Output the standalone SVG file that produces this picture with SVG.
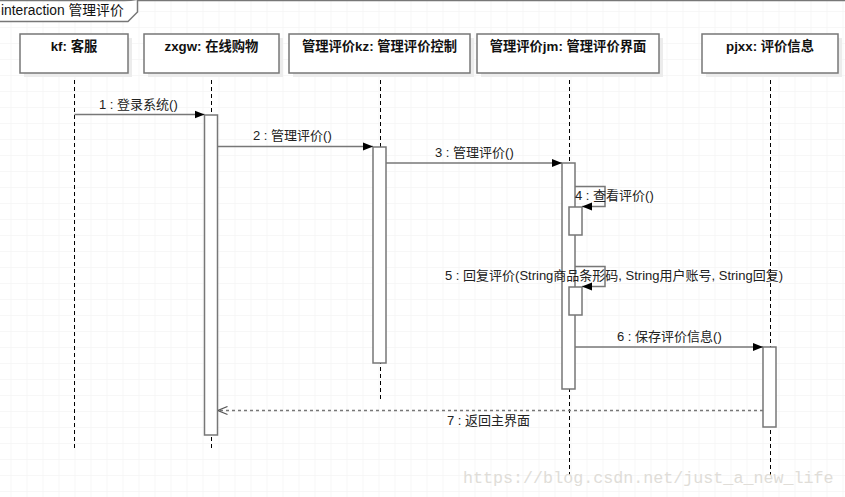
<svg xmlns="http://www.w3.org/2000/svg" width="845" height="497" viewBox="0 0 845 497">
<style>
.head rect.box{fill:#fff;stroke:#777;stroke-width:1.5}
.head rect.sh{fill:#ececec}
.head text{font-family:"Liberation Sans","Noto Sans CJK SC",sans-serif;font-size:13.3px;font-weight:bold;fill:#111;text-anchor:middle}
.life{stroke:#000;stroke-width:1;stroke-dasharray:4,3;fill:none}
.act{fill:#fff;stroke:#777;stroke-width:1.5}
.msg{stroke:#777;stroke-width:1.5;fill:none}
.ret{stroke:#777;stroke-width:1.5;stroke-dasharray:3,3;fill:none}
.lbl{font-family:"Liberation Sans","Noto Sans CJK SC",sans-serif;font-size:13px;fill:#222}
</style>
<defs>
<pattern id="grid" x="10.5" y="11" width="16" height="16" patternUnits="userSpaceOnUse">
<path d="M0 0V16M0 0H16" stroke="#efefef" stroke-width="1" fill="none"/>
</pattern>
<marker id="fill" viewBox="0 0 10 10" refX="10" refY="5" markerWidth="10" markerHeight="10" markerUnits="userSpaceOnUse" orient="auto">
<path d="M0 1L10 5L0 9Z" fill="#000"/>
</marker>
<marker id="open" viewBox="0 0 10 10" refX="10" refY="5" markerWidth="10" markerHeight="10" markerUnits="userSpaceOnUse" orient="auto">
<path d="M0 1L10 5L0 9" fill="none" stroke="#555" stroke-width="1.2"/>
</marker>
</defs>
<rect width="845" height="497" fill="#fff"/>
<rect width="845" height="497" fill="url(#grid)"/>
<g id="frame">
<line x1="0" y1="0.5" x2="845" y2="0.5" stroke="#777" stroke-width="1.5"/>
<path d="M0 21.5H128L137.5 12V0" fill="#fff" stroke="#777" stroke-width="1.5"/>
<text x="1" y="15" font-family="Liberation Sans,'Noto Sans CJK SC',sans-serif" font-size="13.8" fill="#111">interaction 管理评价</text>
</g>
<g id="lifelines">
<line class="life" x1="74.5" y1="73" x2="74.5" y2="449"/>
<line class="life" x1="211.5" y1="73" x2="211.5" y2="449"/>
<line class="life" x1="380.5" y1="73" x2="380.5" y2="402"/>
<line class="life" x1="569.5" y1="73" x2="569.5" y2="475"/>
<line class="life" x1="770.5" y1="73" x2="770.5" y2="475"/>
</g>
<g id="kf" class="head">
<rect class="sh" x="24" y="38" width="108" height="39"/>
<rect class="box" x="20" y="34" width="108" height="39"/>
<text x="74" y="51">kf: 客服</text>
</g>
<g id="zxgw" class="head">
<rect class="sh" x="148" y="38" width="135" height="39"/>
<rect class="box" x="144" y="34" width="135" height="39"/>
<text x="211.5" y="51">zxgw: 在线购物</text>
</g>
<g id="kz" class="head">
<rect class="sh" x="293" y="38" width="181" height="39"/>
<rect class="box" x="289" y="34" width="181" height="39"/>
<text x="379.5" y="51">管理评价kz: 管理评价控制</text>
</g>
<g id="jm" class="head">
<rect class="sh" x="481" y="38" width="182" height="39"/>
<rect class="box" x="477" y="34" width="182" height="39"/>
<text x="568" y="51">管理评价jm: 管理评价界面</text>
</g>
<g id="pjxx" class="head">
<rect class="sh" x="706" y="38" width="136" height="39"/>
<rect class="box" x="702" y="34" width="136" height="39"/>
<text x="770" y="51">pjxx: 评价信息</text>
</g>
<g id="activations">
<rect class="act" x="204.5" y="115" width="13" height="320"/>
<rect class="act" x="373" y="147" width="13" height="216"/>
<rect class="act" x="562" y="163" width="13" height="226"/>
<rect class="act" x="569" y="207" width="13" height="28"/>
<rect class="act" x="569" y="287" width="13" height="28"/>
<rect class="act" x="763" y="347" width="13" height="80"/>
</g>
<g id="connectors">
<line class="msg" x1="74.5" y1="114.5" x2="204.5" y2="114.5" marker-end="url(#fill)"/>
<line class="msg" x1="217.5" y1="146.5" x2="373" y2="146.5" marker-end="url(#fill)"/>
<line class="msg" x1="386" y1="163" x2="562" y2="163" marker-end="url(#fill)"/>
<path class="msg" d="M575 186.5H605V206.5H582" marker-end="url(#fill)"/>
<path class="msg" d="M575 266.5H605V286.5H582" marker-end="url(#fill)"/>
<line class="msg" x1="575" y1="347" x2="763" y2="347" marker-end="url(#fill)"/>
<line class="ret" x1="763" y1="410.5" x2="217.5" y2="410.5" marker-end="url(#open)"/>
</g>
<g id="labels">
<text class="lbl" x="99" y="109">1 : 登录系统()</text>
<text class="lbl" x="253" y="140">2 : 管理评价()</text>
<text class="lbl" x="435" y="157">3 : 管理评价()</text>
<text class="lbl" x="575" y="200">4 : 查看评价()</text>
<text class="lbl" x="445" y="280">5 : 回复评价(String商品条形码, String用户账号, String回复)</text>
<text class="lbl" x="617" y="341">6 : 保存评价信息()</text>
<text class="lbl" x="447" y="425">7 : 返回主界面</text>
</g>
<text x="463" y="483" font-family="Liberation Mono,monospace" font-size="16.7" fill="#e0ddd8">https://blog.csdn.net/just_a_new_life</text>
</svg>
